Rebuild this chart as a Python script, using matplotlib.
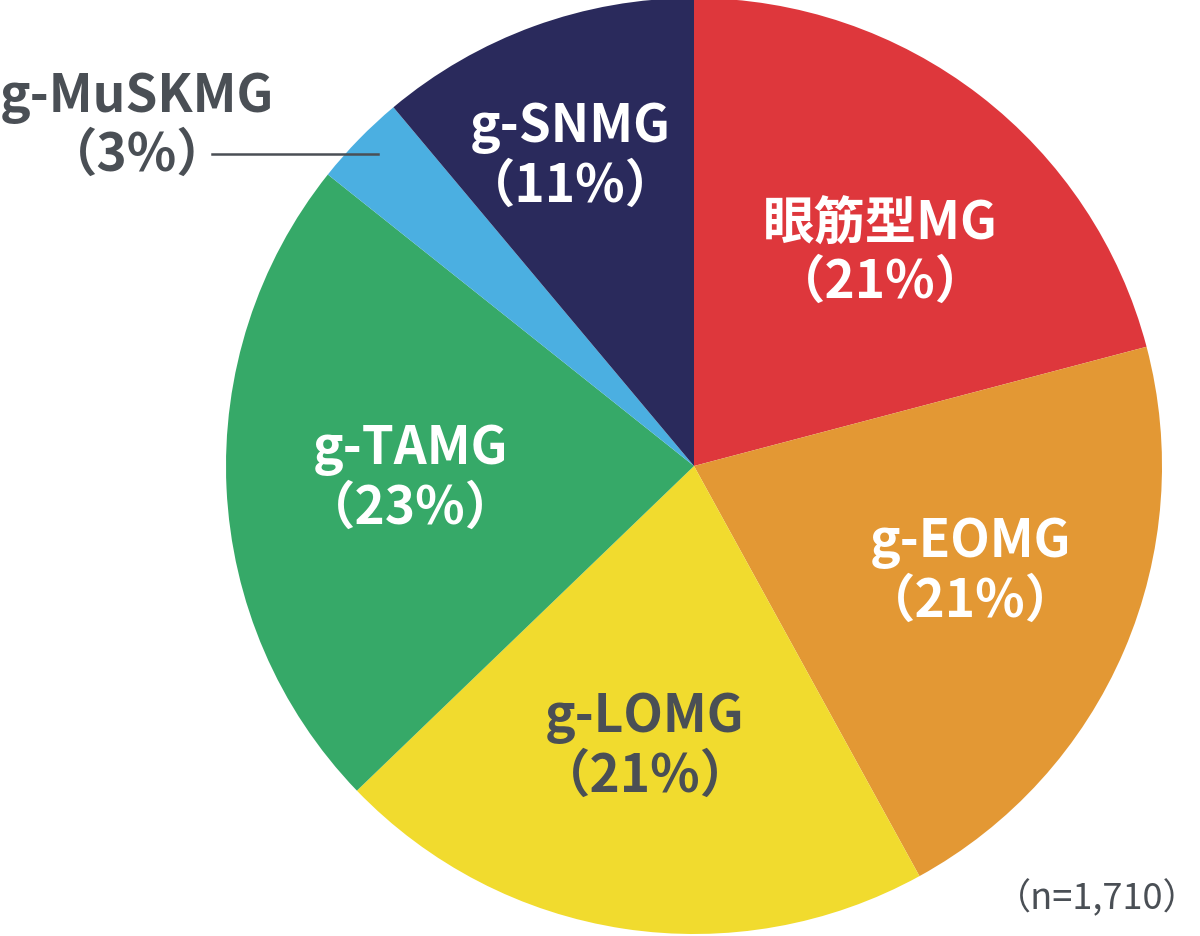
"""
MG subtype breakdown pie chart (n=1,710)
"""

import matplotlib
matplotlib.use("Agg")
import matplotlib.pyplot as plt

# Data (clockwise from 12 o'clock)
labels = ["眼筋型MG", "g-EOMG", "g-LOMG", "g-TAMG", "g-MuSKMG", "g-SNMG"]
shares = [20.9, 21.1, 20.8, 22.9, 3.2, 11.1]
pct_labels = ["21%", "21%", "21%", "23%", "3%", "11%"]
colors = ["#DE373C", "#E39834", "#F1DB2E", "#36A968", "#4BAFE1", "#2A2A5C"]
text_colors = ["white", "white", "#4A4F55", "white", "#4A4F55", "white"]

# label centres in pixel coords (x, y from top) for the two text lines
label_pos = [(880, 224), (970, 543), (645, 718), (410, 450), (137, 97), (570, 128)]
LINE_GAP = 58

W, H = 1200, 937
FONT = ["Noto Sans CJK JP", "DejaVu Sans"]


def main():
    fig = plt.figure(figsize=(W / 100, H / 100), dpi=100)
    ax = fig.add_axes([0, 0, 1, 1])

    # pie in pixel space (y axis flipped, so counterclock=True draws clockwise on screen)
    ax.pie(
        shares,
        colors=colors,
        startangle=-90,
        counterclock=True,
        center=(694, 467),
        radius=468,
        frame=True,
        wedgeprops={"linewidth": 0},
    )
    ax.set_xlim(0, W)
    ax.set_ylim(H, 0)
    ax.set_aspect("equal")
    ax.axis("off")

    for name, pct, (x, y), tc in zip(labels, pct_labels, label_pos, text_colors):
        ax.text(x, y, name, ha="center", va="center", fontsize=37,
                fontweight="bold", color=tc, family=FONT)
        ax.text(x, y + LINE_GAP, f"（{pct}）", ha="center", va="center",
                fontsize=37, fontweight="bold", color=tc, family=FONT)

    # leader line for the small slice
    ax.plot([212, 378], [155, 155], color="#4A4F55", linewidth=1.8)

    ax.text(1200, 898, "（n=1,710）", ha="right", va="center", fontsize=26,
            color="#4A4F55", family=FONT)

    fig.savefig("out.png", dpi=100)
    plt.close(fig)


if __name__ == "__main__":
    main()
